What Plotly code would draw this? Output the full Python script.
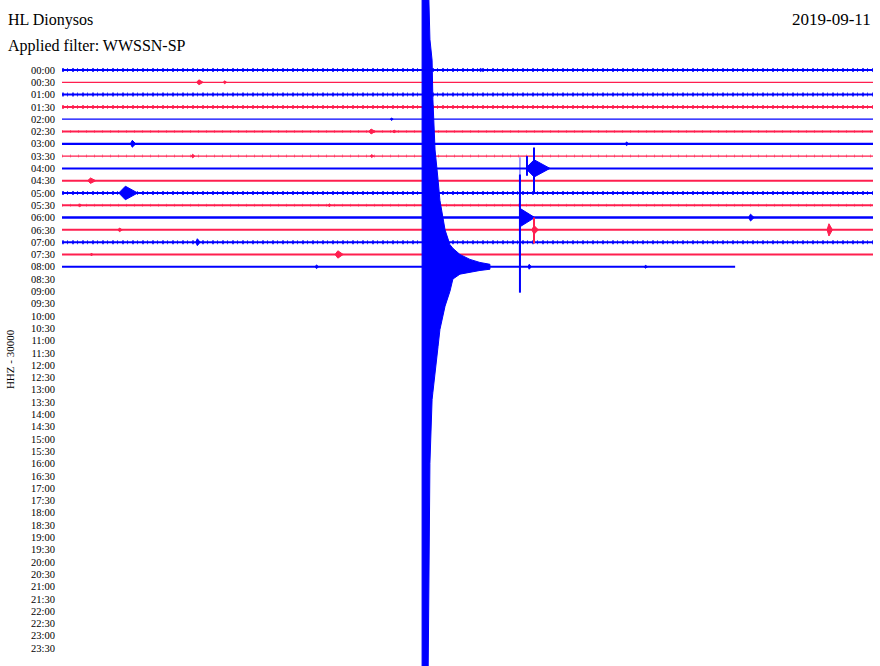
import plotly.graph_objects as go

# helicorder rows, 30 minutes each
row_labels = ["00:00", "00:30", "01:00", "01:30", "02:00", "02:30", "03:00", "03:30",
              "04:00", "04:30", "05:00", "05:30", "06:00", "06:30", "07:00", "07:30",
              "08:00", "08:30", "09:00", "09:30", "10:00", "10:30", "11:00", "11:30",
              "12:00", "12:30", "13:00", "13:30", "14:00", "14:30", "15:00", "15:30",
              "16:00", "16:30", "17:00", "17:30", "18:00", "18:30", "19:00", "19:30",
              "20:00", "20:30", "21:00", "21:30", "22:00", "22:30", "23:00", "23:30"]
# minutes recorded in each row that has data (last row is still running)
row_end = [30, 30, 30, 30, 30, 30, 30, 30, 30, 30, 30, 30, 30, 30, 30, 30, 24.9]
noisy_rows = [0, 2, 3, 10, 14]
light_noise_rows = [5, 11, 7]

# small local events: row, minute, half width (min), amplitude (row units)
blob_row = [0, 1, 1, 4, 5, 5, 6, 6, 7, 7, 8, 9, 10, 11, 11, 12, 13, 13, 13, 14, 15, 15, 16, 16, 16]
blob_min = [15.5, 5.1, 6.03, 12.2, 11.47, 12.3, 2.63, 20.9, 4.85, 11.47, 17.6, 1.1, 2.45,
            0.67, 9.9, 25.5, 2.15, 28.4, 17.5, 5.03, 10.25, 1.1, 9.43, 17.3, 21.6]
blob_half = [0.08, 0.12, 0.06, 0.05, 0.12, 0.06, 0.1, 0.06, 0.06, 0.06, 0.45, 0.15, 0.35,
             0.05, 0.05, 0.1, 0.08, 0.1, 0.12, 0.08, 0.15, 0.04, 0.06, 0.06, 0.06]
blob_amp = [0.12, 0.2, 0.12, 0.1, 0.2, 0.12, 0.28, 0.15, 0.15, 0.12, 0.7, 0.22, 0.55,
            0.12, 0.12, 0.28, 0.15, 0.5, 0.35, 0.28, 0.3, 0.12, 0.15, 0.2, 0.12]

# decaying coda after a sharp onset: row, onset minute, duration, amplitude
coda_row = [12]
coda_min = [16.94]
coda_dur = [0.55]
coda_amp = [0.75]

# spikes: row, minute, up, down (row units)
spike_row = [8, 8, 12, 13, 16]
spike_min = [17.46, 17.2, 16.94, 17.46, 16.94]
spike_up = [1.7, 1.0, 3.5, 1.0, 1.8]
spike_down = [2.0, 0.6, 3.0, 1.1, 2.1]
thin_spike_row = [12]
thin_spike_min = [16.94]
thin_spike_up = [4.9]
thin_spike_down = [6.1]

# big earthquake in the 08:00 row, clipped envelope
quake_row = 16
quake_min = [13.32, 13.54, 13.61, 13.69, 13.72, 13.80, 13.91, 13.98, 14.17, 14.35, 14.46,
             14.72, 15.09, 15.46, 15.83]
quake_up = [24.4, 24.4, 18.5, 16.8, 13.6, 9.5, 7.1, 5.4, 3.0, 1.8, 1.5, 1.0, 0.6, 0.35, 0.2]
quake_down = [34.1, 34.1, 16.0, 10.8, 10.2, 8.4, 6.5, 5.1, 3.2, 2.0, 1.0, 0.6, 0.45, 0.3, 0.2]

BLUE = "#0000ff"
RED = "#ff1f4f"
ROW_WIDTH = [2, 1.2, 2, 2, 1.2, 2, 2.2, 1.3, 2, 2, 2, 2, 2.4, 2, 2, 2, 2.2]


def col(i):
    return BLUE if i % 2 == 0 else RED


fig = go.Figure()

for i, end in enumerate(row_end):
    fig.add_trace(go.Scatter(x=[0, end], y=[-i, -i], mode="lines",
                             line=dict(color=col(i), width=ROW_WIDTH[i]), hoverinfo="skip"))
    # background noise drawn as a broken band around the trace
    if i in noisy_rows:
        fig.add_trace(go.Scatter(x=[0, end], y=[-i, -i], mode="lines", opacity=0.75,
                                 line=dict(color=col(i), width=4, dash="2px,3px,1px,4px"),
                                 hoverinfo="skip"))
    elif i in light_noise_rows:
        fig.add_trace(go.Scatter(x=[0, end], y=[-i, -i], mode="lines", opacity=0.5,
                                 line=dict(color=col(i), width=3, dash="1px,7px"),
                                 hoverinfo="skip"))

# blobs and codas as filled shapes, grouped by colour
for parity in (0, 1):
    xs, ys = [], []
    for r, m, h, a in zip(blob_row, blob_min, blob_half, blob_amp):
        if r % 2 != parity:
            continue
        xs += [m - h, m - h * 0.3, m + h, m - h * 0.3, m - h, None]
        ys += [-r, -r + a, -r, -r - a, -r, None]
    for r, m, d, a in zip(coda_row, coda_min, coda_dur, coda_amp):
        if r % 2 != parity:
            continue
        xs += [m, m + d, m, m, None]
        ys += [-r + a, -r, -r - a, -r + a, None]
    c = col(parity)
    fig.add_trace(go.Scatter(x=xs, y=ys, mode="lines", fill="toself", fillcolor=c,
                             line=dict(color=c, width=1), hoverinfo="skip"))

    xs, ys = [], []
    for r, m, u, d in zip(spike_row, spike_min, spike_up, spike_down):
        if r % 2 != parity:
            continue
        xs += [m, m, None]
        ys += [-r + u, -r - d, None]
    fig.add_trace(go.Scatter(x=xs, y=ys, mode="lines", line=dict(color=c, width=2),
                             hoverinfo="skip"))

xs, ys = [], []
for r, m, u, d in zip(thin_spike_row, thin_spike_min, thin_spike_up, thin_spike_down):
    xs += [m, m, None]
    ys += [-r + u, -r - d, None]
fig.add_trace(go.Scatter(x=xs, y=ys, mode="lines", opacity=0.6,
                         line=dict(color=col(thin_spike_row[0]), width=1.2), hoverinfo="skip"))

# earthquake envelope
qx = quake_min + quake_min[::-1] + [quake_min[0]]
qy = [-quake_row + u for u in quake_up] + [-quake_row - d for d in quake_down[::-1]] \
    + [-quake_row + quake_up[0]]
fig.add_trace(go.Scatter(x=qx, y=qy, mode="lines", fill="toself", fillcolor=BLUE,
                         line=dict(color=BLUE, width=1), hoverinfo="skip"))

serif = "Liberation Serif"
fig.update_layout(
    width=880, height=666,
    margin=dict(l=62, r=7, t=0, b=0),
    paper_bgcolor="white", plot_bgcolor="white",
    showlegend=False,
    xaxis=dict(range=[0, 30], visible=False),
    yaxis=dict(range=[-48.46, 5.69], tickvals=[-i for i in range(len(row_labels))],
               ticktext=row_labels, showgrid=False, zeroline=False, showline=False,
               ticks="", ticklabelstandoff=6, automargin=False,
               tickfont=dict(family=serif, size=10.5, color="black")),
    annotations=[
        dict(text="HL Dionysos", xref="paper", yref="paper", x=-0.0685, y=1 - 20 / 666,
             xanchor="left", yanchor="middle", showarrow=False,
             font=dict(family=serif, size=16, color="black")),
        dict(text="Applied filter: WWSSN-SP", xref="paper", yref="paper", x=-0.0685,
             y=1 - 46 / 666, xanchor="left", yanchor="middle", showarrow=False,
             font=dict(family=serif, size=16, color="black")),
        dict(text="2019-09-11", xref="paper", yref="paper", x=1, y=1 - 20 / 666,
             xanchor="right", yanchor="middle", showarrow=False,
             font=dict(family=serif, size=17, color="black")),
        dict(text="HHZ - 30000", xref="paper", yref="paper", x=-0.064, y=1 - 359 / 666,
             xanchor="center", yanchor="middle", textangle=-90, showarrow=False,
             font=dict(family=serif, size=11, color="black")),
    ],
)

# drop the page's default body margin so the chart sits at the window corner
fig.write_html("out.html", config={"displayModeBar": False},
               post_script="document.body.style.margin='0';")
